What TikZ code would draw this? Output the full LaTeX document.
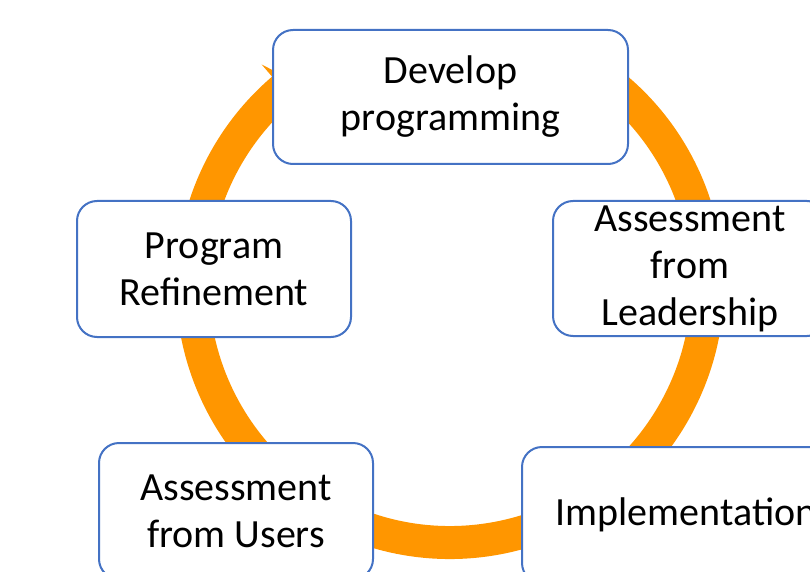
\documentclass[tikz,border=0pt]{standalone}
\usepackage{fontspec}
\setmainfont{Carlito}
\usetikzlibrary{calc}
\definecolor{stageblue}{RGB}{68,114,196}
\definecolor{ringorange}{RGB}{255,150,0}

\begin{document}
\begin{tikzpicture}[x=1pt,y=1pt,
  stage/.style={draw=stageblue, line width=2pt, fill=white, rounded corners=20pt,
    align=center, inner sep=0pt, font=\fontsize{40}{47}\selectfont},
  ring/.style={draw=ringorange, line width=33pt}]
\useasboundingbox (0,0) rectangle (810,571);
\clip (0,0) rectangle (810,571);
\coordinate (hub) at (450,286);
\draw[ring] ($(hub)+(60:257.5)$) arc[start angle=60, end angle=-229.5, radius=257.5];
\fill[ringorange] ($(hub)+(130.5:290)$) -- ($(hub)+(127.5:257.5)$) -- ($(hub)+(130.5:225)$) -- cycle;
\node[stage, minimum width=355pt, minimum height=134pt] (develop) at (450.5,474) {Develop\\programming};
\node[stage, minimum width=274pt, minimum height=135pt] (leaders) at (690,302.5) {Assessment\\from\\Leadership};
\node[stage, minimum width=328pt, minimum height=136pt] (implement) at (686,56) {Implementation};
\node[stage, minimum width=274pt, minimum height=136pt] (users) at (236,60) {Assessment\\from Users};
\node[stage, minimum width=274pt, minimum height=136pt] (refine) at (214,302) {Program\\Refinement};
\end{tikzpicture}
\end{document}
